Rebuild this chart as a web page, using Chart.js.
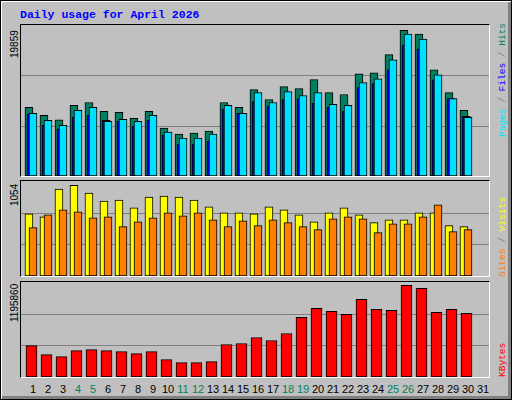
<!DOCTYPE html>
<html>
<head>
<meta charset="utf-8">
<script src="https://cdn.jsdelivr.net/npm/chart.js@4"></script>
<style>
  html, body { margin: 0; padding: 0; background: #c0c0c0; }
  #frame { position: absolute; left: 0; top: 0; width: 510px; height: 398px;
           border: 1px solid #000; background: #c0c0c0;
           box-shadow: inset 1px 1px 0 #fff, inset -3px -3px 0 #808080; }
  .panel { position: absolute; left: 20px; width: 468px;
           border-top: 1px solid #000; border-left: 1px solid #000;
           border-bottom: 1px solid #fff; border-right: 1px solid #fff; }
  .panel canvas { position: absolute; left: 0; top: 0; }
  .rot { position: absolute; white-space: nowrap; transform-origin: left top;
         transform: rotate(-90deg); line-height: 10px; }
  .lab { font: 10px "Liberation Sans", sans-serif; color: #000; }
  .leg { font: 9.5px "Liberation Mono", monospace; }
  #title { position: absolute; left: 20px; top: 8px; font: bold 11.5px "Liberation Mono", monospace; color: #0000ff; }
  .day { position: absolute; top: 383px; width: 16px; text-align: center;
         font: 11px "Liberation Sans", sans-serif; }
</style>
</head>
<body>
<div id="frame"></div>
<div id="title">Daily usage for April 2026</div>
<div class="panel" style="top:24px;height:151px"><canvas id="c1"></canvas></div>
<div class="panel" style="top:180px;height:95px"><canvas id="c2"></canvas></div>
<div class="panel" style="top:281px;height:95px"><canvas id="c3"></canvas></div>
<div id="labels"></div>
<script>
const days = Array.from({ length: 31 }, (_, i) => i + 1);
const weekendDays = [4, 5, 11, 12, 18, 19, 25, 26];

const hits  = [9346, 8267, 7638, 9615, 10019, 8806, 8671, 7863, 8806, 6515, 5706, 5841, 6110, 10019, 9346,
               11772, 10424, 12176, 11906, 13120, 11367, 11098, 13928, 14063, 16534, 19859, 19320, 14467, 11367, 8941];
const files = [8402, 6919, 6380, 7998, 8267, 7593, 7458, 6784, 7593, 5571, 4358, 4358, 4763, 9076, 8537,
               10154, 9480, 10424, 10559, 9885, 9346, 8806, 12041, 12580, 14467, 17837, 17298, 13119, 10559, 8132];
const pages = [8537, 7593, 6919, 8941, 9346, 7458, 7728, 7458, 8267, 5976, 5167, 5167, 5706, 9615, 8537,
               11367, 10019, 11502, 10963, 11367, 9750, 9615, 12715, 13254, 15815, 19320, 18646, 13793, 10559, 7998];
const visits = [722, 687, 1008, 1054, 962, 871, 882, 791, 917, 928, 917, 882, 802, 733, 733,
                722, 802, 768, 710, 630, 733, 791, 710, 619, 653, 653, 733, 733, 584, 573];
const sites  = [561, 710, 768, 745, 676, 687, 573, 630, 676, 733, 699, 733, 653, 573, 642,
                584, 653, 619, 573, 538, 665, 687, 665, 504, 607, 607, 687, 825, 516, 538];
const kbytes = [410216, 292388, 266204, 344756, 357848, 344756, 331664, 305480, 331664, 226928, 187652, 187652, 200744, 423308, 436400,
                514952, 475676, 567320, 776792, 894620, 855344, 816068, 1012448, 881528, 868436, 1195860, 1156460, 842252, 881528, 829160];

const maxLabels = ['19859', '1054', '1195860'];

const C = { hits: '#008060', files: '#0000ff', pages: '#00e0ff', visits: '#ffff00', sites: '#ff8000', kbytes: '#ff0000' };

const gridPlugin = {
  id: 'thirds',
  beforeDatasetsDraw(chart) {
    const y = chart.scales.y, x = chart.scales.x, ctx = chart.ctx;
    ctx.save();
    ctx.strokeStyle = '#808080';
    ctx.lineWidth = 1;
    [y.max / 3, y.max * 2 / 3].forEach(v => {
      const py = Math.round(y.getPixelForValue(v)) + 0.5;
      ctx.beginPath(); ctx.moveTo(x.left, py); ctx.lineTo(x.right, py); ctx.stroke();
    });
    ctx.restore();
  }
};

// order: higher numbers are drawn first (behind)
function ds(values, offset, color, thick, order) {
  return {
    data: values.map((v, i) => ({ x: days[i] + offset, y: v })),
    backgroundColor: color, borderColor: '#000', borderWidth: 1,
    borderSkipped: false, barThickness: thick, grouped: false, order
  };
}

function makeChart(id, w, h, yMax, datasets) {
  const cv = document.getElementById(id);
  cv.width = w; cv.height = h;
  cv.style.width = w + 'px'; cv.style.height = h + 'px';
  new Chart(cv, {
    type: 'bar',
    data: { datasets },
    options: {
      responsive: false, animation: false,
      layout: { padding: 0 },
      plugins: { legend: { display: false }, tooltip: { enabled: false } },
      scales: {
        x: { type: 'linear', min: 0.2, max: 31.4, offset: false, display: false },
        y: { min: 0, max: yMax, display: false }
      }
    },
    plugins: [gridPlugin]
  });
}

makeChart('c1', 468, 151, 20572, [
  ds(hits, -0.27, C.hits, 8, 3),
  ds(files, -0.13, C.files, 8, 2),
  ds(pages, 0, C.pages, 8, 1)
]);
makeChart('c2', 468, 95, 1103, [
  ds(visits, -0.27, C.visits, 8, 2),
  ds(sites, 0, C.sites, 8, 1)
]);
makeChart('c3', 468, 95, 1239000, [
  ds(kbytes, -0.1, C.kbytes, 11, 1)
]);

// text labels
const lab = document.getElementById('labels');
function rot(html, cls, left, bottom) {
  const d = document.createElement('div');
  d.className = 'rot ' + cls;
  d.style.left = left + 'px';
  d.style.top = bottom + 'px';
  d.innerHTML = html;
  lab.appendChild(d);
}
rot(maxLabels[0], 'lab', 9, 58);
rot(maxLabels[1], 'lab', 9, 206);
rot(maxLabels[2], 'lab', 9, 322);
const g = '<span style="color:#808080"> / </span>';
rot(`<span style="color:${C.pages}">Pages</span>${g}<span style="color:${C.files}">Files</span>${g}<span style="color:${C.hits}">Hits</span>`, 'leg', 497, 137);
rot(`<span style="color:${C.sites}">Sites</span>${g}<span style="color:${C.visits}">Visits</span>`, 'leg', 497, 277);
rot(`<span style="color:${C.kbytes}">KBytes</span>`, 'leg', 497, 377);

days.forEach(d => {
  const s = document.createElement('div');
  s.className = 'day';
  s.style.left = (18 + 15 * d - 8) + 'px';
  s.style.color = weekendDays.includes(d) ? '#008060' : '#000';
  s.textContent = d;
  lab.appendChild(s);
});
</script>
</body>
</html>
